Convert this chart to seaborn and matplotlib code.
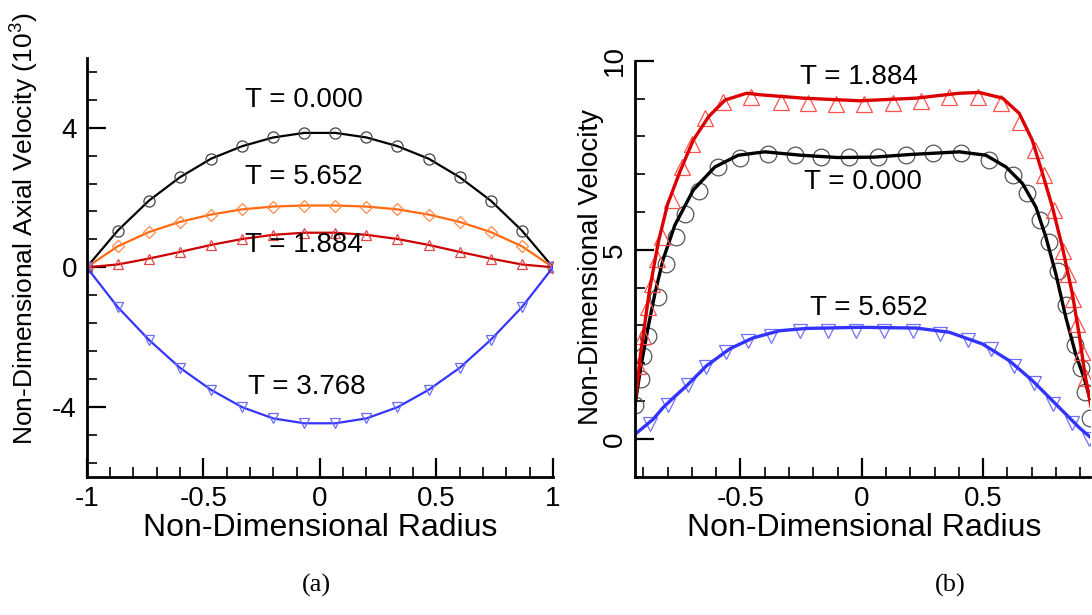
"""
Two-panel velocity profile figure (axial velocity / velocity vs radius)
"""
import matplotlib
matplotlib.use('Agg')
import matplotlib.pyplot as plt
from matplotlib.ticker import MultipleLocator, FixedLocator
import seaborn as sns

# ---------------- panel (a): axial velocity (x10^3) ----------------
radius_a = [-1.0, -0.867, -0.733, -0.6, -0.467, -0.333, -0.2, -0.067,
            0.067, 0.2, 0.333, 0.467, 0.6, 0.733, 0.867, 1.0]
axial_t0000 = [0, 1.05, 1.91, 2.58, 3.11, 3.47, 3.72, 3.85,
               3.85, 3.72, 3.47, 3.11, 2.58, 1.91, 1.05, 0]
axial_t5652 = [0, 0.60, 1.01, 1.30, 1.51, 1.66, 1.74, 1.77,
               1.77, 1.74, 1.66, 1.51, 1.30, 1.01, 0.60, 0]
axial_t1884 = [0, 0.08, 0.25, 0.44, 0.64, 0.81, 0.93, 0.99,
               0.99, 0.93, 0.81, 0.64, 0.44, 0.25, 0.08, 0]
axial_t3768 = [0, -1.14, -2.08, -2.88, -3.51, -4.01, -4.33, -4.47,
               -4.47, -4.33, -4.01, -3.51, -2.88, -2.08, -1.14, 0]

# ---------------- panel (b): velocity, lines ----------------
line_x_t1884 = [-0.934, -0.910, -0.875, -0.838, -0.800, -0.750, -0.694, -0.631,
                -0.563, -0.474, -0.420, -0.242, -0.009, 0.224, 0.402, 0.484,
                0.580, 0.648, 0.702, 0.744, 0.785, 0.826, 0.867, 0.895, 0.919, 0.944]
line_y_t1884 = [0.90, 2.30, 3.90, 5.20, 6.20, 7.05, 7.90, 8.52,
                8.96, 9.14, 9.10, 9.01, 8.94, 9.01, 9.14, 9.16,
                9.01, 8.61, 7.90, 7.02, 6.13, 5.07, 3.84, 2.77, 1.71, 0.85]
line_x_t0000 = [-0.934, -0.910, -0.880, -0.850, -0.818, -0.770, -0.694, -0.605,
                -0.509, -0.400, -0.250, -0.100, 0.050, 0.200, 0.402, 0.511,
                0.594, 0.662, 0.717, 0.758, 0.799, 0.840, 0.881, 0.919, 0.944]
line_y_t0000 = [0.90, 1.90, 2.95, 3.90, 4.75, 5.65, 6.58, 7.19,
                7.50, 7.59, 7.50, 7.44, 7.45, 7.52, 7.59, 7.50,
                7.19, 6.75, 6.13, 5.34, 4.37, 3.22, 2.24, 1.54, 0.95]
line_x_t5652 = [-0.934, -0.859, -0.818, -0.777, -0.722, -0.640, -0.544, -0.448,
                -0.338, -0.229, -0.009, 0.224, 0.360, 0.497, 0.607, 0.703,
                0.799, 0.895, 0.944]
line_y_t5652 = [0.12, 0.52, 0.83, 1.08, 1.40, 1.93, 2.38, 2.67,
                2.86, 2.92, 2.95, 2.93, 2.82, 2.51, 2.07, 1.54,
                0.92, 0.30, 0.03]

# ---------------- panel (b): velocity, symbols ----------------
mark_x_t1884 = [-0.921, -0.900, -0.882, -0.863, -0.845, -0.824, -0.783, -0.742,
                -0.701, -0.647, -0.571, -0.455, -0.331, -0.222, -0.105, 0.011,
                0.127, 0.244, 0.360, 0.477, 0.573, 0.651, 0.714, 0.751,
                0.792, 0.829, 0.851, 0.870, 0.888, 0.906, 0.922]
mark_y_t1884 = [1.93, 2.73, 3.48, 4.10, 4.76, 5.34, 6.31, 7.19,
                7.81, 8.48, 8.92, 9.05, 8.92, 8.87, 8.86, 8.86,
                8.87, 8.93, 9.03, 9.05, 8.89, 8.39, 7.64, 6.97,
                6.05, 4.98, 4.37, 3.70, 3.04, 2.29, 1.60]
mark_x_t0000 = [-0.934, -0.911, -0.900, -0.880, -0.841, -0.808, -0.767, -0.729,
                -0.671, -0.594, -0.503, -0.386, -0.277, -0.167, -0.051, 0.066,
                0.182, 0.292, 0.408, 0.525, 0.621, 0.682, 0.734, 0.771,
                0.808, 0.840, 0.880, 0.903, 0.920, 0.938]
mark_y_t0000 = [0.90, 1.58, 2.20, 2.73, 3.76, 4.63, 5.34, 5.94,
                6.56, 7.18, 7.44, 7.53, 7.50, 7.46, 7.46, 7.46,
                7.50, 7.55, 7.55, 7.37, 6.97, 6.49, 5.78, 5.20,
                4.45, 3.53, 2.49, 1.87, 1.23, 0.55]
mark_x_t5652 = [-0.871, -0.797, -0.715, -0.640, -0.560, -0.469, -0.372, -0.256,
                -0.140, -0.023, 0.093, 0.210, 0.322, 0.439, 0.532, 0.628,
                0.710, 0.788, 0.867, 0.936]
mark_y_t5652 = [0.40, 0.90, 1.43, 1.89, 2.29, 2.58, 2.73, 2.84,
                2.84, 2.86, 2.86, 2.86, 2.77, 2.61, 2.38, 1.93,
                1.49, 0.93, 0.43, -0.01]

sns.set_theme(style='ticks')
plt.rcParams['font.family'] = ['Liberation Sans', 'DejaVu Sans']
plt.rcParams['axes.unicode_minus'] = False
plt.rcParams['mathtext.fontset'] = 'custom'
plt.rcParams['mathtext.rm'] = 'Liberation Sans'
for key in ['text.color', 'axes.labelcolor', 'xtick.color', 'ytick.color',
            'axes.edgecolor']:
    plt.rcParams[key] = 'black'

fig = plt.figure(figsize=(10.92, 6.15), dpi=100)
ax_a = fig.add_axes([0.0794, 0.2249, 0.427, 0.681])
ax_b = fig.add_axes([0.5815, 0.2249, 0.4167, 0.6764])


def style_axes(ax):
    for side in ['top', 'right']:
        ax.spines[side].set_visible(False)
    for side in ['left', 'bottom']:
        ax.spines[side].set_linewidth(2)
        ax.spines[side].set_color('black')
    ax.tick_params(which='major', direction='in', length=14, width=1.6,
                   labelsize=20, pad=7, colors='black')
    ax.tick_params(which='minor', direction='in', length=7, width=1.2, colors='black')
    ax.grid(False)


# ---- panel (a)
a_series = [
    (axial_t0000, '#000000', 'o', 8, '#444444'),
    (axial_t5652, '#ff6a10', 'D', 6.5, '#ff8a4a'),
    (axial_t1884, '#cc0000', '^', 6.5, '#e04848'),
    (axial_t3768, '#3535ff', 'v', 6.5, '#6a6aff'),
]
for vals, col, mk, ms, ec in a_series:
    sns.lineplot(x=radius_a, y=vals, ax=ax_a, color=col, lw=1.6, sort=False,
                 estimator=None, marker=mk, ms=ms, mfc='none', mec=ec, mew=0.9)

ax_a.set_xlim(-1, 1)
ax_a.set_ylim(-6, 6)
ax_a.xaxis.set_major_locator(FixedLocator([-1, -0.5, 0, 0.5, 1]))
ax_a.set_xticklabels(['-1', '-0.5', '0', '0.5', '1'])
ax_a.xaxis.set_minor_locator(MultipleLocator(0.1))
ax_a.yaxis.set_major_locator(FixedLocator([-4, 0, 4]))
ax_a.set_yticklabels(['-4', '0', '4'])
ax_a.yaxis.set_minor_locator(FixedLocator([-5.6, -4.8, -3.2, -2.4, -1.6, -0.8,
                                           0.8, 1.6, 2.4, 3.2, 4.8, 5.6]))
style_axes(ax_a)
ax_a.set_xlabel('Non-Dimensional Radius', fontsize=23)
ax_a.set_ylabel('Non-Dimensional Axial Velocity (10$^{3}$)', fontsize=19)
ax_a.xaxis.set_label_coords(0.50, -0.086)
ax_a.yaxis.set_label_coords(-0.100, 0.592)

ax_a.text(-0.07, 4.79, 'T = 0.000', fontsize=20, ha='center', va='center')
ax_a.text(-0.07, 2.60, 'T = 5.652', fontsize=20, ha='center', va='center')
ax_a.text(-0.07, 0.64, 'T = 1.884', fontsize=20, ha='center', va='center')
ax_a.text(-0.055, -3.42, 'T = 3.768', fontsize=20, ha='center', va='center')

# ---- panel (b)
b_series = [
    (line_x_t0000, line_y_t0000, mark_x_t0000, mark_y_t0000, '#000000', 'o', 12, '#555555'),
    (line_x_t1884, line_y_t1884, mark_x_t1884, mark_y_t1884, '#dd0000', '^', 11, '#ff5050'),
    (line_x_t5652, line_y_t5652, mark_x_t5652, mark_y_t5652, '#3333ff', 'v', 10, '#7070ff'),
]
for lx, ly, mx, my, col, mk, ms, ec in b_series:
    sns.lineplot(x=mx, y=my, ax=ax_b, ls='none', sort=False, estimator=None,
                 marker=mk, ms=ms, mfc='none', mec=ec, mew=0.9)
    sns.lineplot(x=lx, y=ly, ax=ax_b, color=col, lw=2.4, sort=False, estimator=None)

ax_b.set_xlim(-0.934, 0.94)
ax_b.set_ylim(-1, 10)
ax_b.xaxis.set_major_locator(FixedLocator([-0.5, 0, 0.5]))
ax_b.set_xticklabels(['-0.5', '0', '0.5'])
ax_b.xaxis.set_minor_locator(MultipleLocator(0.1))
ax_b.yaxis.set_major_locator(FixedLocator([0, 5, 10]))
ax_b.set_yticklabels(['0', '5', '10'])
ax_b.yaxis.set_minor_locator(MultipleLocator(1))
style_axes(ax_b)
ax_b.tick_params(axis='y', which='major', labelrotation=90, pad=5)
for lbl in ax_b.get_yticklabels():
    lbl.set_va('center')
ax_b.set_xlabel('Non-Dimensional Radius', fontsize=23)
ax_b.set_ylabel('Non-Dimensional Velocity', fontsize=20)
ax_b.xaxis.set_label_coords(0.503, -0.087)
ax_b.yaxis.set_label_coords(-0.068, 0.503)

ax_b.text(-0.01, 9.58, 'T = 1.884', fontsize=20, ha='center', va='center')
ax_b.text(0.005, 6.78, 'T = 0.000', fontsize=20, ha='center', va='center')
ax_b.text(0.03, 3.46, 'T = 5.652', fontsize=20, ha='center', va='center')

# panel captions
fig.text(316 / 1092, 1 - 585 / 615, '(a)', fontsize=19, family='Liberation Serif',
         ha='center', va='center')
fig.text(950 / 1092, 1 - 585 / 615, '(b)', fontsize=19, family='Liberation Serif',
         ha='center', va='center')

fig.savefig('out.png', dpi=100)
